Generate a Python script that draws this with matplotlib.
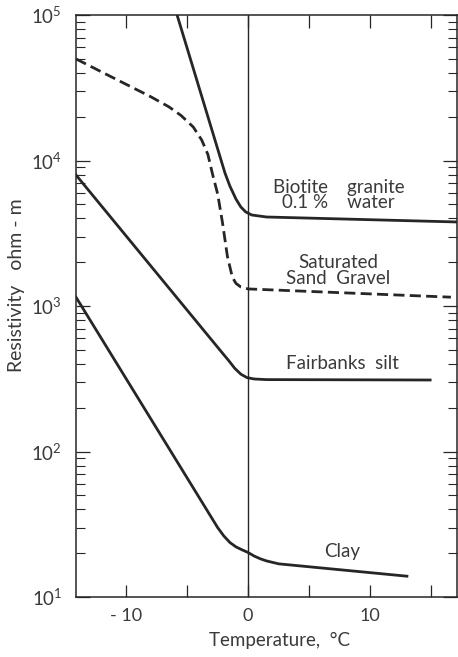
import math
import matplotlib
matplotlib.use("Agg")
import matplotlib.pyplot as plt
from matplotlib.ticker import FixedLocator, LogLocator, FuncFormatter, NullFormatter

plt.rcParams["font.family"] = ["Lato", "DejaVu Sans"]
plt.rcParams["mathtext.fontset"] = "custom"
plt.rcParams["mathtext.rm"] = "Lato"
plt.rcParams["mathtext.it"] = "Lato"

INK = "#262626"
TXT = "#3a3a3a"

# Resistivity (ohm-m) versus temperature (deg C)
granite_t = [-6.0, -1.9, -1.5, -1.0, -0.6, -0.2, 0.3, 1.5, 17.1]
granite_r = [112000, 8200, 6680, 5430, 4790, 4430, 4220, 4090, 3780]

sand_t = [-14.1, -12.0, -10.0, -8.0, -6.5, -5.5, -4.5, -3.8, -3.3, -2.9,
          -2.5, -2.1, -1.7, -1.3, -1.0, -0.6, 0.0, 16.6]
sand_r = [49900, 40600, 33400, 27500, 23400, 20400, 17000, 13800, 11000, 7940,
          5890, 3720, 2190, 1580, 1430, 1350, 1310, 1150]

silt_t = [-14.1, -2.2, -1.6, -1.1, -0.6, -0.1, 0.5, 1.5, 14.9]
silt_r = [7950, 485, 422, 373, 340, 322, 315, 312, 310]

clay_t = [-14.1, -2.5, -2.0, -1.5, -1.0, -0.5, 0.0, 0.5, 1.0, 1.5, 2.5, 13.0]
clay_r = [1150, 30.0, 26.3, 23.7, 22.1, 21.1, 20.2, 19.1, 18.3, 17.7, 16.9, 13.9]

x_major = [-10, 0, 10]
x_all_ticks = [-10, -5, 0, 5, 10, 15]

fig = plt.figure(figsize=(4.58, 6.57), dpi=100)
ax = fig.add_axes([76 / 458, 60 / 657, 381 / 458, 582 / 657])
ax.set_yscale("log")
ax.set_xlim(-14.1, 17.1)
ax.set_ylim(10, 1e5)

lw = 2.0
ax.plot(granite_t, granite_r, color=INK, lw=lw)
ax.plot(sand_t, sand_r, color=INK, lw=lw, dashes=(4.0, 1.9))
ax.plot(silt_t, silt_r, color=INK, lw=lw)
ax.plot(clay_t, clay_r, color=INK, lw=lw)
ax.axvline(0, color=INK, lw=1.0)

fs = 13.5
ax.text(7.4, 5800, "Biotite    granite\n0.1 %    water", ha="center", va="center",
        multialignment="center", linespacing=0.9, fontsize=fs, color=TXT)
ax.text(7.4, 1760, "Saturated\nSand  Gravel", ha="center", va="center",
        multialignment="center", linespacing=0.9, fontsize=fs, color=TXT)
ax.text(7.7, 405, "Fairbanks  silt", ha="center", va="center", fontsize=fs, color=TXT)
ax.text(7.7, 20.4, "Clay", ha="center", va="center", fontsize=fs, color=TXT)

# axes frame and ticks
for s in ax.spines.values():
    s.set_color(INK)
    s.set_linewidth(1.1)

ax.xaxis.set_major_locator(FixedLocator(x_all_ticks))
ax.xaxis.set_major_formatter(FuncFormatter(
    lambda v, p: ("- " if v < 0 else "") + f"{abs(int(v))}" if int(v) in x_major else ""))
ax.yaxis.set_major_locator(LogLocator(base=10, numticks=10))
ax.yaxis.set_minor_locator(LogLocator(base=10, subs=range(2, 10), numticks=20))
ax.yaxis.set_major_formatter(FuncFormatter(lambda v, p: r"$10^{%d}$" % round(math.log10(v))))
ax.yaxis.set_minor_formatter(NullFormatter())

ax.tick_params(axis="x", which="major", direction="in", length=9, width=0.9,
               top=True, bottom=True, color=INK, labelsize=13, labelcolor=TXT, pad=8)
ax.tick_params(axis="y", which="major", direction="in", length=10, width=0.9,
               left=True, right=True, color=INK, labelsize=13.5, labelcolor=TXT, pad=10)
ax.tick_params(axis="y", which="minor", direction="in", length=6.5, width=0.8,
               left=True, right=True, color=INK)

ax.set_xlabel("Temperature,  \u00b0C", fontsize=13.5, color=TXT)
ax.xaxis.set_label_coords(0.535, -0.06)
ax.set_ylabel("Resistivity   ohm - m", fontsize=14, color=TXT)
ax.yaxis.set_label_coords(-0.135, 0.535)

fig.savefig("out.png", dpi=100, facecolor="white")
